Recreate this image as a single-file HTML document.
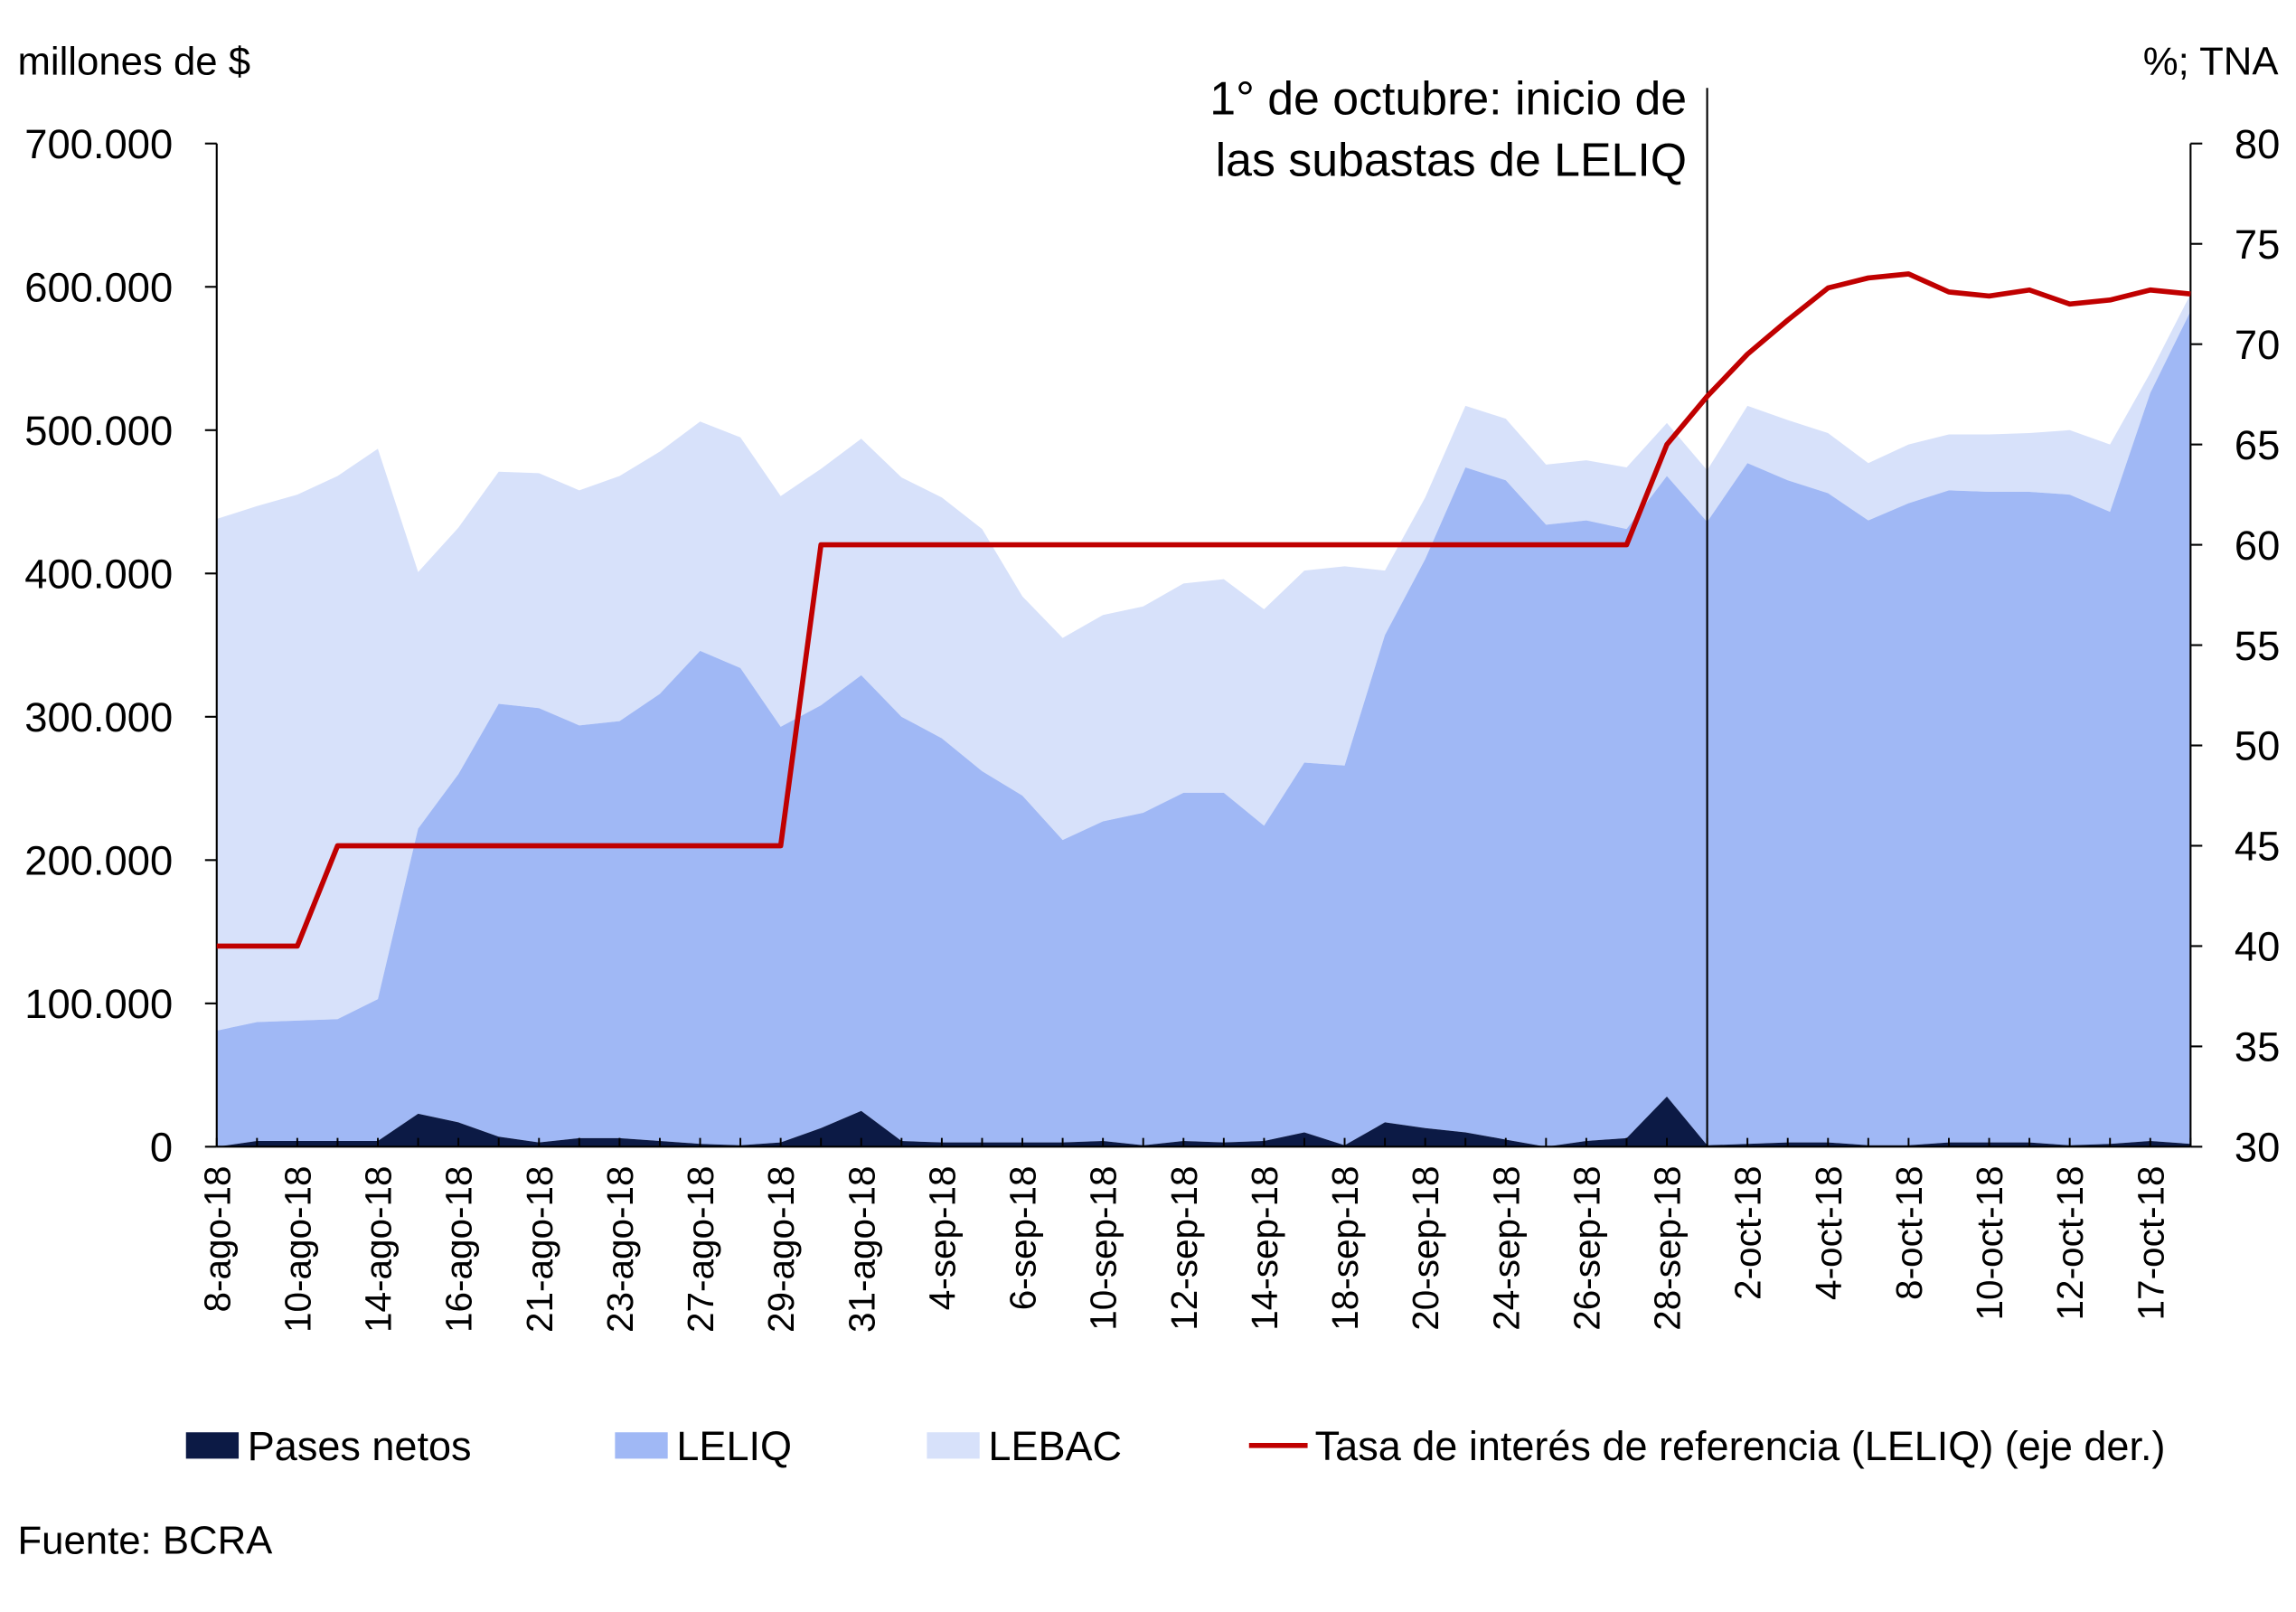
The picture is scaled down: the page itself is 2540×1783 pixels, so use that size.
<!DOCTYPE html>
<html><head><meta charset="utf-8"><style>
html,body{margin:0;padding:0;background:#fff;}
svg{display:block;font-family:"Liberation Sans",sans-serif;}
</style></head><body>
<svg id="chart" width="2540" height="1783" viewBox="0 0 1568 1100.7" xmlns="http://www.w3.org/2000/svg">
<text x="12" y="51" font-size="27" fill="#000">millones de $</text>
<text x="1556" y="51" font-size="27" text-anchor="end" fill="#000">%; TNA</text>
<g id="plot"></g>
<text x="12" y="1061" font-size="27" fill="#000">Fuente: BCRA</text>
</svg>
<script>
const dates=["8-ago-18","9-ago-18","10-ago-18","13-ago-18","14-ago-18","15-ago-18","16-ago-18","17-ago-18","21-ago-18","22-ago-18","23-ago-18","24-ago-18","27-ago-18","28-ago-18","29-ago-18","30-ago-18","31-ago-18","3-sep-18","4-sep-18","5-sep-18","6-sep-18","7-sep-18","10-sep-18","11-sep-18","12-sep-18","13-sep-18","14-sep-18","17-sep-18","18-sep-18","19-sep-18","20-sep-18","21-sep-18","24-sep-18","25-sep-18","26-sep-18","27-sep-18","28-sep-18","1-oct-18","2-oct-18","3-oct-18","4-oct-18","5-oct-18","8-oct-18","9-oct-18","10-oct-18","11-oct-18","12-oct-18","16-oct-18","17-oct-18","18-oct-18"];
const pases=[0,4,4,4,4,23,17,7,3,6,6,4,2,1,3,13,25,4,3,3,3,3,4,1,4,3,4,10,1,17,13,10,5,0,4,6,35,1,2,3,3,1,1,3,3,3,1,2,4,2];
const leliq=[81,83,84,85,99,199,243,302,303,288,291,312,344,333,290,295,304,296,282,259,242,211,223,232,243,244,220,258,265,340,397,464,460,434,433,425,433,435,475,462,453,436,448,455,454,454,454,441,522,581];
const lebac=[357,360,367,379,384,179,172,162,164,164,171,169,160,161,161,165,165,167,168,169,139,141,144,144,146,149,151,134,139,45,43,43,43,42,42,43,37,36,40,42,42,40,41,39,40,41,45,47,14,12];
const rate=[40,40,40,45,45,45,45,45,45,45,45,45,45,45,45,60,60,60,60,60,60,60,60,60,60,60,60,60,60,60,60,60,60,60,60,60,65,67.4,69.5,71.2,72.8,73.3,73.5,72.6,72.4,72.7,72.0,72.2,72.7,72.5];
const leftTicks=[0,100,200,300,400,500,600,700];
const leftTickLabels=["0","100.000","200.000","300.000","400.000","500.000","600.000","700.000"];
const rightTicks=[30,35,40,45,50,55,60,65,70,75,80];

const NS="http://www.w3.org/2000/svg";
const g=document.getElementById('plot');
const X0=148,X1=1496,Y0=783,Y1=98;
const xs=i=>X0+(X1-X0)*i/(dates.length-1);
const yL=v=>Y0-(Y0-Y1)*v/700;
const yR=v=>Y0-(Y0-Y1)*(v-30)/50;
function el(tag,attrs,parent){const e=document.createElementNS(NS,tag);for(const k in attrs)e.setAttribute(k,attrs[k]);(parent||g).appendChild(e);return e;}
function areaPath(lo,hi){let d="M"+xs(0)+","+yL(hi[0]);for(let i=1;i<hi.length;i++)d+="L"+xs(i)+","+yL(hi[i]);for(let i=lo.length-1;i>=0;i--)d+="L"+xs(i)+","+yL(lo[i]);return d+"Z";}
const zero=dates.map(()=>0);
const c1=pases.slice();
const c2=pases.map((v,i)=>v+leliq[i]);
const c3=c2.map((v,i)=>v+lebac[i]);
let p=el('path',{d:areaPath(c2,c3),fill:'#d7e1fa'});


p=el('path',{d:areaPath(c1,c2),fill:'#a0b8f5'});


p=el('path',{d:areaPath(zero,c1),fill:'#0c1a45'});


let a=el('line',{x1:X0,y1:Y1,x2:X0,y2:Y0,stroke:'#000','stroke-width':1.3});


a=el('line',{x1:X1,y1:Y1,x2:X1,y2:Y0,stroke:'#000','stroke-width':1.3});


a=el('line',{x1:X0,y1:Y0,x2:X1,y2:Y0,stroke:'#000','stroke-width':1.3});


leftTicks.forEach((v,i)=>{
  el('line',{x1:X0-8,y1:yL(v),x2:X0,y2:yL(v),stroke:'#000','stroke-width':1.3});
  const t=el('text',{x:118,y:yL(v)+10,'font-size':28,'text-anchor':'end'});
  t.textContent=leftTickLabels[i];
  
  
});
rightTicks.forEach(v=>{
  el('line',{x1:X1,y1:yR(v),x2:X1+8,y2:yR(v),stroke:'#000','stroke-width':1.3});
  const t=el('text',{x:1526,y:yR(v)+10,'font-size':28});
  t.textContent=String(v);
  
  
});
dates.forEach((d,i)=>{
  el('line',{x1:xs(i),y1:Y0,x2:xs(i),y2:Y0-6,stroke:'#000','stroke-width':1.2});
  if(i%2===0){
    const t=el('text',{x:0,y:0,'font-size':25,'text-anchor':'end',transform:`translate(${xs(i)+9},${Y0+13}) rotate(-90)`});
    t.textContent=d;
    
    
  }
});
const vx=xs(37);
let v=el('line',{x1:vx,y1:60,x2:vx,y2:Y0,stroke:'#000','stroke-width':1.3});


let t=el('text',{x:1152,y:78,'font-size':32,'text-anchor':'end'});t.textContent="1° de octubre: inicio de";


t=el('text',{x:1152,y:120,'font-size':32,'text-anchor':'end'});t.textContent="las subastas de LELIQ";


const pts=rate.map((r,i)=>xs(i)+","+yR(r)).join(" ");
let rl=el('polyline',{points:pts,fill:'none',stroke:'#c00000','stroke-width':3.5,'stroke-linejoin':'round'});


const leg=[["Pases netos",127,"#0c1a45","box"],["LELIQ",420,"#a0b8f5","box"],["LEBAC",633,"#d7e1fa","box"],["Tasa de interés de referencia (LELIQ) (eje der.)",853,"#c00000","line"]];
leg.forEach(l=>{
  const gg=el('g',{});
  
  
  if(l[3]==="box")el('rect',{x:l[1],y:978,width:36,height:18,fill:l[2]},gg);
  else el('line',{x1:l[1],y1:987,x2:l[1]+40,y2:987,stroke:l[2],'stroke-width':3.5},gg);
  const tt=el('text',{x:l[1]+(l[3]==="box"?42:45),y:997,'font-size':27.8},gg);
  tt.textContent=l[0];
});
</script>
</body></html>
